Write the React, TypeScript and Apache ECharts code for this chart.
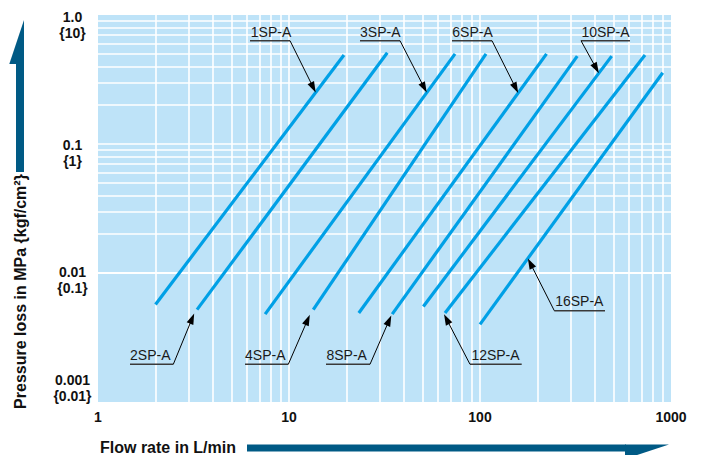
import React, { useEffect, useRef } from "react";
import * as echarts from "echarts";

// ---- data ----
const seriesNames = ["1SP-A", "2SP-A", "3SP-A", "4SP-A", "6SP-A", "8SP-A", "10SP-A", "12SP-A", "16SP-A"];
const flowStart = [2.0, 3.3, 7.5, 13.4, 23.2, 34.7, 50.5, 65.6, 100];
const flowEnd = [19.4, 32.7, 74, 107.5, 223, 323, 489, 731, 905];
const lossStart = [0.0057, 0.0052, 0.0048, 0.0052, 0.0049, 0.0048, 0.0055, 0.0049, 0.004];
const lossEnd = [0.49, 0.51, 0.5, 0.5, 0.5, 0.48, 0.48, 0.49, 0.357];
const xTickValues = [1, 10, 100, 1000];
const xTickLabels = ["1", "10", "100", "1000"];
const yTickValues = [1, 0.1, 0.01, 0.001];
const yTickLabelsMPa = ["1.0", "0.1", "0.01", "0.001"];
const yTickLabelsKgf = ["{10}", "{1}", "{0.1}", "{0.01}"];
const xTitle = "Flow rate in L/min";
const yTitle = "Pressure loss in MPa {kgf/cm²}";

// ---- layout / style (not data) ----
const W = 702;
const H = 455;
const GRID = { left: 98, top: 15, width: 573, height: 387 };
const BG = "#BEE3F8";
const LINE_COLOR = "#00A0E6";
const DARK = "#005A85";
const yLabelOffsets = [2, 1, -1, -22];
// annotation placement: tip fraction t along series, text centre, underline, leader side
const annotations = [
  { s: 0, t: 0.85, tx: 271, ty: 31.5, ux1: 250, ux2: 290, uy: 40.7, side: "right" },
  { s: 2, t: 0.851, tx: 380.3, ty: 31.5, ux1: 360, ux2: 400, uy: 40.7, side: "right" },
  { s: 4, t: 0.849, tx: 472.5, ty: 31.5, ux1: 452, ux2: 492, uy: 40.7, side: "right" },
  { s: 6, t: 0.932, tx: 605.5, ty: 31.5, ux1: 581, ux2: 630, uy: 40.7, side: "left" },
  { s: 1, t: -0.015, tx: 150.3, ty: 355, ux1: 130, ux2: 173.3, uy: 364.3, side: "right" },
  { s: 3, t: -0.02, tx: 265.3, ty: 355, ux1: 245, ux2: 288.3, uy: 364.3, side: "right" },
  { s: 5, t: -0.005, tx: 346.7, ty: 355, ux1: 326, ux2: 370, uy: 364.3, side: "right" },
  { s: 7, t: -0.005, tx: 495.5, ty: 354.5, ux1: 470, ux2: 521.7, uy: 364.3, side: "left" },
  { s: 8, t: 0.262, tx: 579.3, ty: 300.7, ux1: 554.3, ux2: 605, uy: 310.7, side: "left" },
];

function minorGrid(min: number, max: number): number[] {
  const out: number[] = [];
  for (let d = min; d < max; d *= 10) {
    for (let k = 1; k <= 9; k++) {
      const v = +(d * k).toPrecision(6);
      if (v > min && v < max) out.push(v);
    }
  }
  return out;
}

const FONT = '"Liberation Sans", Arial, Helvetica, sans-serif';

export default function App() {
  const ref = useRef<HTMLDivElement>(null);
  useEffect(() => {
    if (!ref.current) return;
    const chart = echarts.init(ref.current, undefined, { renderer: "svg" });
    const xGrid = minorGrid(1, 1000);
    const yGrid = minorGrid(0.001, 1);
    const dataSeries = seriesNames.map((name, i) => ({
      name,
      type: "line" as const,
      data: [
        [flowStart[i], lossStart[i]],
        [flowEnd[i], lossEnd[i]],
      ],
      showSymbol: false,
      symbol: "none",
      z: 3,
      silent: true,
      lineStyle: { color: LINE_COLOR, width: 3.2, cap: "butt" },
    }));
    chart.setOption({
      animation: false,
      grid: { ...GRID, show: true, backgroundColor: BG, borderWidth: 0 },
      xAxis: {
        type: "log",
        logBase: 10,
        min: 1,
        max: 1000,
        axisLine: { show: false },
        axisTick: { show: false },
        splitLine: { show: false },
        minorSplitLine: { show: false },
        axisLabel: {
          margin: 8,
          color: "#111",
          fontWeight: "bold",
          fontSize: 14,
          fontFamily: FONT,
          formatter: (v: number) => {
            const idx = xTickValues.findIndex((t) => Math.abs(t - v) / t < 1e-6);
            return idx >= 0 ? xTickLabels[idx] : "";
          },
        },
      },
      yAxis: {
        type: "log",
        logBase: 10,
        min: 0.001,
        max: 1,
        axisLine: { show: false },
        axisTick: { show: false },
        splitLine: { show: false },
        axisLabel: { show: false },
      },
      series: [
        {
          type: "line",
          data: [],
          z: 1,
          silent: true,
          markLine: {
            silent: true,
            z: 1,
            symbol: ["none", "none"],
            label: { show: false },
            emphasis: { disabled: true },
            lineStyle: { color: "#ffffff", width: 1.6, type: "solid", opacity: 1 },
            data: [...xGrid.map((v) => ({ xAxis: v })), ...yGrid.map((v) => ({ yAxis: v }))],
          },
        },
        ...dataSeries,
      ],
    });

    const px = (p: number[]) => chart.convertToPixel({ gridIndex: 0 }, p) as number[];
    const graphics: any[] = [];

    // y tick labels (two lines)
    yTickValues.forEach((v, i) => {
      const p = px([1, v]);
      const y = p[1] + yLabelOffsets[i];
      graphics.push({
        type: "text", x: 72.5, y, z: 10,
        style: { text: yTickLabelsMPa[i], align: "center", verticalAlign: "middle", fill: "#111", fontSize: 14, fontWeight: "bold", fontFamily: FONT },
      });
      graphics.push({
        type: "text", x: 72.5, y: y + 16, z: 10,
        style: { text: yTickLabelsKgf[i], align: "center", verticalAlign: "middle", fill: "#111", fontSize: 14, fontWeight: "bold", fontFamily: FONT },
      });
    });

    // annotations
    annotations.forEach((a) => {
      const p0 = px([flowStart[a.s], lossStart[a.s]]);
      const p1 = px([flowEnd[a.s], lossEnd[a.s]]);
      const tip = [p0[0] + a.t * (p1[0] - p0[0]), p0[1] + a.t * (p1[1] - p0[1])];
      const start = [a.side === "right" ? a.ux2 : a.ux1, a.uy];
      const dx = tip[0] - start[0];
      const dy = tip[1] - start[1];
      const len = Math.sqrt(dx * dx + dy * dy);
      const ux = dx / len, uy = dy / len;
      const hl = 11, hw = 3.6;
      const base = [tip[0] - ux * hl, tip[1] - uy * hl];
      graphics.push({
        type: "text", x: a.tx, y: a.ty, z: 10,
        style: { text: seriesNames[a.s], align: "center", verticalAlign: "middle", fill: "#1a1a1a", fontSize: 14, fontFamily: FONT },
      });
      graphics.push({
        type: "line", z: 10,
        shape: { x1: a.ux1, y1: a.uy, x2: a.ux2, y2: a.uy },
        style: { stroke: "#3a3a3a", lineWidth: 1.5 },
      });
      graphics.push({
        type: "line", z: 10,
        shape: { x1: start[0], y1: start[1], x2: base[0] + ux * 2, y2: base[1] + uy * 2 },
        style: { stroke: "#000", lineWidth: 1 },
      });
      graphics.push({
        type: "polygon", z: 10,
        shape: {
          points: [
            [tip[0], tip[1]],
            [base[0] - uy * hw, base[1] + ux * hw],
            [base[0] + uy * hw, base[1] - ux * hw],
          ],
        },
        style: { fill: "#000" },
      });
    });

    // axis titles
    graphics.push({
      type: "text", x: 20, y: 291.5, rotation: Math.PI / 2, z: 10,
      style: { text: yTitle, align: "center", verticalAlign: "middle", fill: "#111", fontSize: 16, fontWeight: "bold", fontFamily: FONT },
    });
    graphics.push({
      type: "text", x: 100, y: 447.5, z: 10,
      style: { text: xTitle, align: "left", verticalAlign: "middle", fill: "#111", fontSize: 16, fontWeight: "bold", fontFamily: FONT },
    });

    // decorative half arrows
    graphics.push({ type: "rect", z: 10, shape: { x: 16, y: 63, width: 8, height: 109 }, style: { fill: DARK } });
    graphics.push({ type: "polygon", z: 10, shape: { points: [[24, 20], [24, 64], [9.3, 64]] }, style: { fill: DARK } });
    graphics.push({ type: "rect", z: 10, shape: { x: 247, y: 444.5, width: 379, height: 7 }, style: { fill: DARK } });
    graphics.push({ type: "polygon", z: 10, shape: { points: [[625, 444.5], [669, 444.5], [625, 459]] }, style: { fill: DARK } });

    chart.setOption({ graphic: graphics });

    return () => chart.dispose();
  }, []);

  return <div ref={ref} style={{ position: "fixed", left: 0, top: 0, width: W, height: H, background: "#fff" }} />;
}
